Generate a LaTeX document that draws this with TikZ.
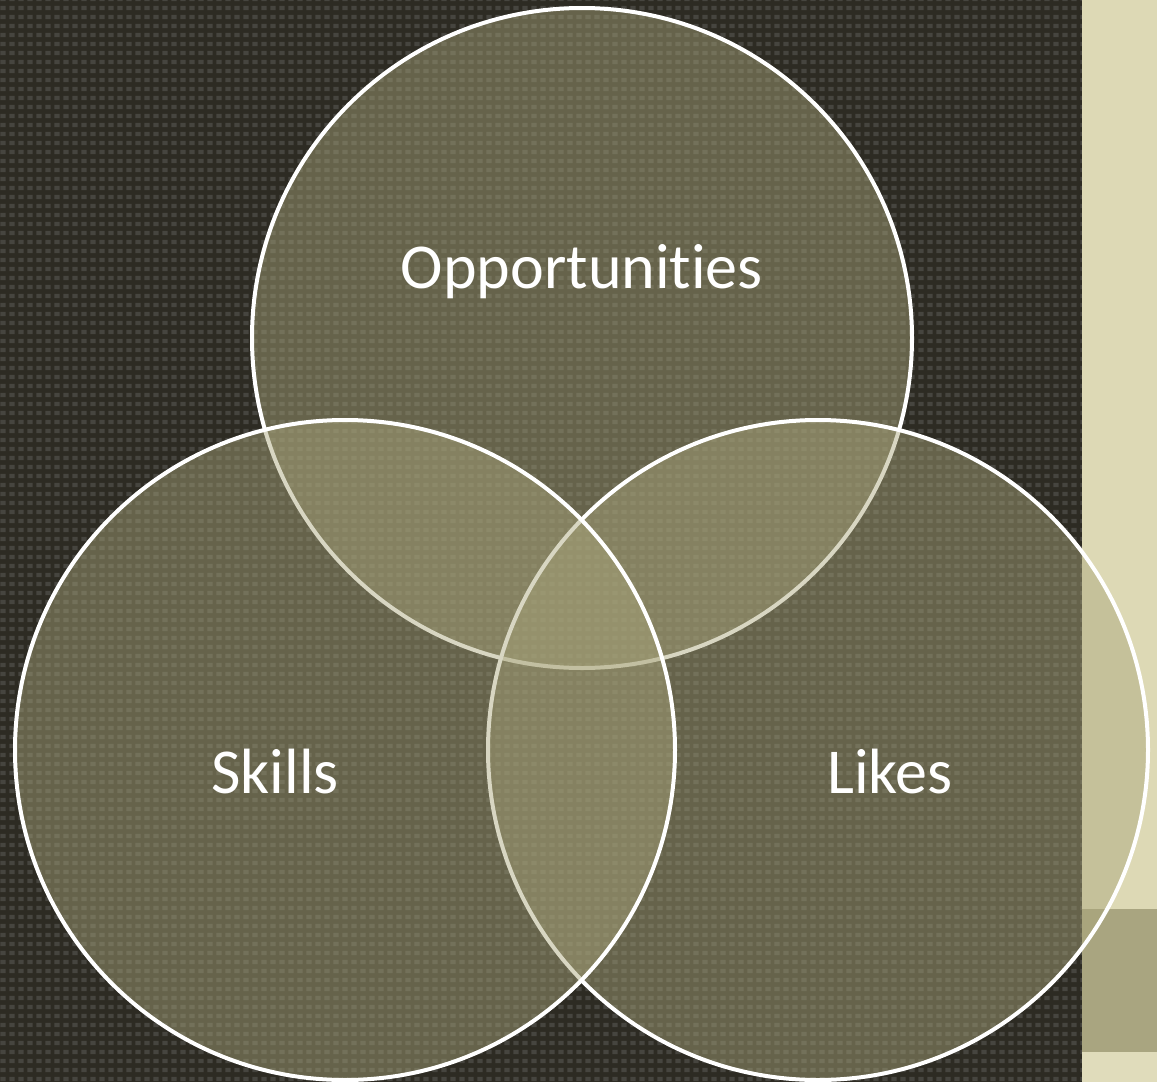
\documentclass[tikz,border=0pt]{standalone}
\usepackage{fontspec}
\setmainfont{Carlito}[Ligatures=NoCommon]
\usetikzlibrary{patterns}
\definecolor{bgdark}{HTML}{2D2B23}
\definecolor{bgtex}{HTML}{46453F}
\definecolor{panel}{HTML}{DDD9B5}
\definecolor{panelband}{HTML}{A9A580}
\definecolor{panelbot}{HTML}{E0DCBB}
\definecolor{vfill}{RGB}{170,166,123}
\pgfdeclarepatternformonly{weave}{\pgfpointorigin}{\pgfpoint{7pt}{7pt}}{\pgfpoint{7pt}{7pt}}{%
  \pgfpathrectangle{\pgfpoint{1.2pt}{1.5pt}}{\pgfpoint{4.2pt}{3.4pt}}%
  \pgfusepath{fill}}
\tikzset{
  venn/.style={draw=white, line width=3pt, fill=vfill, fill opacity=0.46},
  lbl/.style={text=white, font=\fontsize{48}{56}\selectfont, inner sep=0pt}
}
\begin{document}
\begin{tikzpicture}[x=0.75pt,y=-0.75pt]
\useasboundingbox (0,0) rectangle (1157,1082);
\fill[bgdark] (0,0) rectangle (1082,1082);
\fill[pattern=weave, pattern color=bgtex] (0,0) rectangle (1082,1082);
\fill[panel] (1082,0) rectangle (1157,909);
\fill[panelband] (1082,909) rectangle (1157,1052);
\fill[panelbot] (1082,1052) rectangle (1157,1082);
\node[venn, circle, minimum size=660*0.75pt, inner sep=0pt] (top) at (582,338) {};
\node[venn, circle, minimum size=660*0.75pt, inner sep=0pt] (right) at (818,750) {};
\node[venn, circle, minimum size=660*0.75pt, inner sep=0pt] (left) at (345,750) {};
\node[lbl] (t1) at (582,272) {Opportunities};
\node[lbl] (t2) at (275,772) {Skills};
\node[lbl] (t3) at (890,772) {Likes};
\end{tikzpicture}
\end{document}
